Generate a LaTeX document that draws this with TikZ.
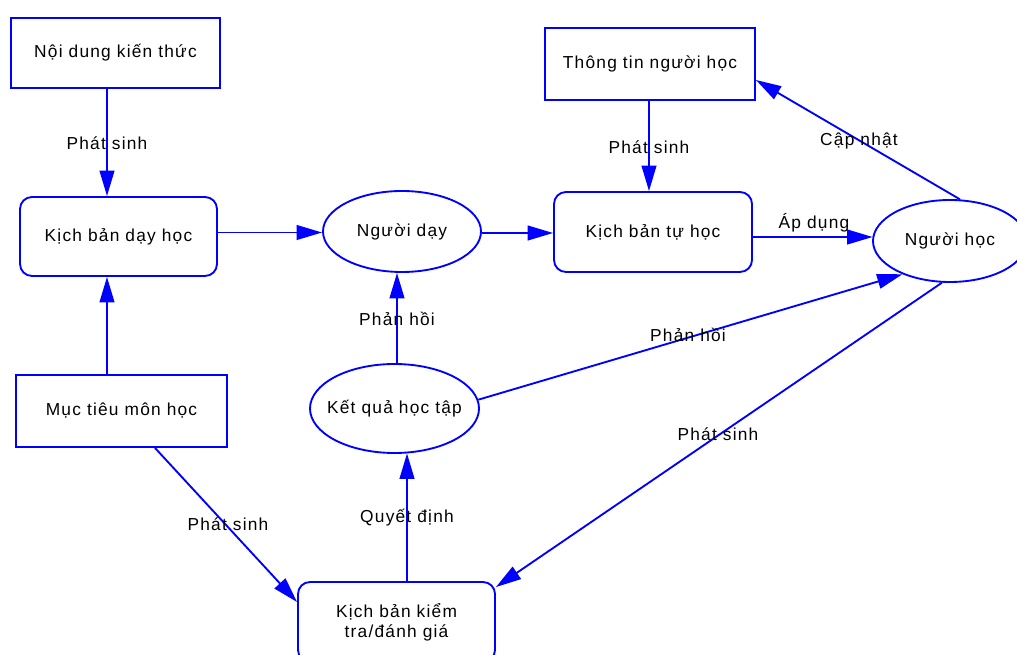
\documentclass[tikz,border=0pt]{standalone}
\usepackage{fontspec}
\setmainfont{Liberation Sans}[LetterSpace=7]
\usetikzlibrary{arrows.meta,shapes.geometric,calc}
\definecolor{edgeblue}{RGB}{0,0,255}
\begin{document}
\begin{tikzpicture}[x=0.75pt,y=-0.75pt,
  every node/.style={font=\fontsize{13}{15}\selectfont, text=black},
  boxnode/.style={draw=edgeblue, line width=1.4pt, rectangle, inner sep=0pt},
  roundnode/.style={boxnode, rounded corners=9pt},
  ovalnode/.style={draw=edgeblue, line width=1.4pt, ellipse, inner sep=0pt},
  link/.style={draw=edgeblue, line width=1.4pt, -{Triangle[length=19pt,width=11pt]}},
  lbl/.style={inner sep=0pt}]
  \useasboundingbox (0,0) rectangle (1017,655);
  \clip (0,0) rectangle (1017,655);

  % nodes
  \node[boxnode, minimum width=156.75pt, minimum height=52.5pt] (noidung) at (115.5,53) {Nội dung kiến thức};
  \node[roundnode, minimum width=147.75pt, minimum height=59.25pt] (kbday) at (118.5,236.5) {Kịch bản dạy học};
  \node[boxnode, minimum width=158.25pt, minimum height=54pt] (muctieu) at (121.5,411) {Mục tiêu môn học};
  \node[ovalnode, minimum width=118.5pt, minimum height=60.75pt, label=center:{Người dạy}] (nguoiday) at (402,231.5) {};
  \node[ovalnode, minimum width=126.75pt, minimum height=66.75pt, label=center:{Kết quả học tập}] (ketqua) at (394.5,408.5) {};
  \node[roundnode, minimum width=147.75pt, minimum height=60pt, align=center] (kbkt) at (396.5,622) {Kịch bản kiểm\\ tra/đánh giá};
  \node[boxnode, minimum width=157.5pt, minimum height=54pt] (thongtin) at (650,64) {Thông tin người học};
  \node[roundnode, minimum width=148.5pt, minimum height=60pt] (kbtu) at (653,232) {Kịch bản tự học};
  \node[ovalnode, minimum width=115.5pt, minimum height=61.5pt, label=center:{Người học}] (nguoihoc) at (950,241) {};

  % connectors
  \draw[link] ($(noidung.south)+(-8.5,0)$) -- ($(kbday.north)+(-11.5,0)$);
  \draw[link] ($(muctieu.north)+(-14.5,0)$) -- ($(kbday.south)+(-11.5,0)$);
  \draw[link] ($(kbday.east |- nguoiday.west)+(0,1)$) -- ($(nguoiday.west)+(0,1)$);
  \draw[link] ($(nguoiday.east)+(0,1.5)$) -- ($(kbtu.west)+(0,1)$);
  \draw[link] ($(ketqua.north)+(2.5,0)$) -- ($(nguoiday.south)+(-5,0)$);
  \draw[link] ($(kbkt.north)+(10.5,0)$) -- ($(ketqua.south)+(12.5,-0.5)$);
  \draw[link] ($(muctieu.south)+(33.5,0)$) -- ($(kbkt.west)+(0,-20)$);
  \draw[link] ($(thongtin.south)+(-1,0)$) -- ($(kbtu.north)+(-4,0)$);
  \draw[link] ($(kbtu.east)+(0,5)$) -- ($(nguoihoc.west)+(0.5,-4)$);
  \draw[link] ($(nguoihoc.north)+(10,0.3)$) -- ($(thongtin.east)+(0,16)$);
  \draw[link] (ketqua.6) -- (nguoihoc.215);
  \draw[link] (nguoihoc.259) -- ($(kbkt.north east)+(0,6)$);

  % connector labels
  \node[lbl] (l1) at (107,143) {Phát sinh};
  \node[lbl] (l2) at (397,319) {Phản hồi};
  \node[lbl] (l3) at (407,518) {Quyết định};
  \node[lbl] (l4) at (228,524) {Phát sinh};
  \node[lbl] (l5) at (649,147) {Phát sinh};
  \node[lbl] (l6) at (814,223) {Áp dụng};
  \node[lbl] (l7) at (859,141) {Cập nhật};
  \node[lbl] (l8) at (688,335) {Phản hồi};
  \node[lbl] (l9) at (718,434) {Phát sinh};
\end{tikzpicture}
\end{document}
